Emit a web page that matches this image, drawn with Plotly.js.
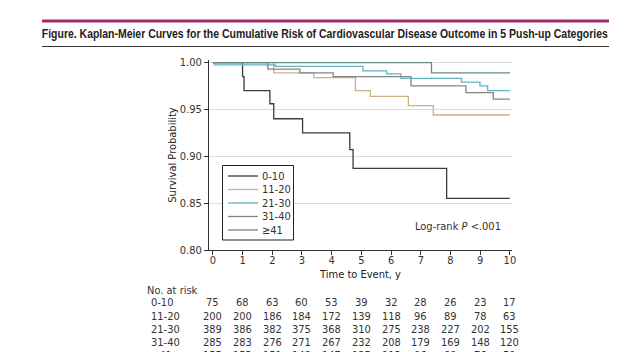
<!DOCTYPE html>
<html>
<head>
<meta charset="utf-8">
<script src="https://cdn.plot.ly/plotly-3.0.1.min.js"></script>
<style>
  html, body { margin: 0; padding: 0; background: #fff; }
  #chart { width: 640px; height: 352px; }
</style>
</head>
<body>
<div id="chart"></div>
<script>
// ---- Data ----
const groupNames = ["0-10", "11-20", "21-30", "31-40", "\u226541"];

const t_0_10  = [0, 1.0, 1.05, 1.92, 2.05, 3.02, 4.61, 4.72, 7.87, 10];
const s_0_10  = [1.0, 0.985, 0.970, 0.956, 0.940, 0.925, 0.907, 0.887, 0.855, 0.855];

const t_11_20 = [0, 2.05, 3.4, 4.8, 5.3, 6.58, 7.42, 10];
const s_11_20 = [1.0, 0.989, 0.984, 0.970, 0.964, 0.954, 0.944, 0.944];

const t_21_30 = [0, 0.05, 2.1, 5.05, 5.85, 6.33, 8.37, 8.99, 9.25, 10];
const s_21_30 = [1.0, 0.9975, 0.996, 0.991, 0.988, 0.983, 0.979, 0.975, 0.970, 0.970];

const t_31_40 = [0, 1.85, 2.93, 4.05, 6.67, 8.52, 9.44, 10];
const s_31_40 = [1.0, 0.993, 0.989, 0.985, 0.975, 0.968, 0.961, 0.961];

const t_41    = [0, 7.36, 10];
const s_41    = [1.0, 0.989, 0.989];

const riskYears = [0, 1, 2, 3, 4, 5, 6, 7, 8, 9, 10];
const risk_0_10  = [75, 68, 63, 60, 53, 39, 32, 28, 26, 23, 17];
const risk_11_20 = [200, 200, 186, 184, 172, 139, 118, 96, 89, 78, 63];
const risk_21_30 = [389, 386, 382, 375, 368, 310, 275, 238, 227, 202, 155];
const risk_31_40 = [285, 283, 276, 271, 267, 232, 208, 179, 169, 148, 120];
const risk_41    = [155, 153, 151, 148, 147, 125, 113, 96, 89, 76, 59];

const titleText = "Figure. Kaplan-Meier Curves for the Cumulative Risk of Cardiovascular Disease Outcome in 5 Push-up Categories";

// ---- Styling ----
const colors = ["#3c3c3c", "#cdb083", "#5fb3c2", "#858585", "#6b8a82"];
const FONT = "'DejaVu Sans Condensed', 'Liberation Sans Narrow', sans-serif";
const TFONT = "'Liberation Sans', Arial, sans-serif";

const times = [t_0_10, t_11_20, t_21_30, t_31_40, t_41];
const surv  = [s_0_10, s_11_20, s_21_30, s_31_40, s_41];
const risks = [risk_0_10, risk_11_20, risk_21_30, risk_31_40, risk_41];

const traces = groupNames.map((name, i) => ({
  x: times[i], y: surv[i], name: name,
  type: "scatter", mode: "lines",
  line: { shape: "hv", color: colors[i], width: 1.3 },
  hoverinfo: "skip", showlegend: false
}));

// geometry helpers (plot area: 209..512 px horizontally, 60..250 px vertically)
const L = 209, R = 128, T = 60, B = 102, W = 640 - L - R, H = 352 - T - B;
const px2paperX = px => (px - L) / W;
const px2paperY = py => (352 - B - py) / H;

const annotations = [];
const shapes = [
  { type: "rect", xref: "paper", yref: "paper",
    x0: px2paperX(42), x1: px2paperX(609), y0: px2paperY(19.5), y1: px2paperY(22.5),
    fillcolor: "#a4276b", line: { width: 0 } },
  { type: "line", xref: "paper", yref: "paper",
    x0: px2paperX(42), x1: px2paperX(609), y0: px2paperY(46.5), y1: px2paperY(46.5),
    line: { color: "#333", width: 1 } }
];

// legend box (drawn by hand to match the compact row spacing)
shapes.push({ type: "rect", xref: "paper", yref: "paper",
  x0: px2paperX(222.5), x1: px2paperX(293.5), y0: px2paperY(240), y1: px2paperY(165.5),
  fillcolor: "#fff", line: { color: "#222", width: 1 }, layer: "above" });
const legY = [176, 189.5, 203, 216.5, 230];
groupNames.forEach((name, i) => {
  shapes.push({ type: "line", xref: "paper", yref: "paper",
    x0: px2paperX(228), x1: px2paperX(258), y0: px2paperY(legY[i]), y1: px2paperY(legY[i]),
    line: { color: colors[i], width: 1.3 }, layer: "above" });
  annotations.push({ text: name, xref: "paper", yref: "paper",
    x: px2paperX(260), y: px2paperY(legY[i]), xanchor: "left", yanchor: "middle",
    showarrow: false, font: { family: FONT, size: 11, color: "#333" } });
});

annotations.push({
  text: "Log-rank <i>P</i> <.001", xref: "paper", yref: "paper",
  x: px2paperX(503), y: px2paperY(226), xanchor: "right", yanchor: "middle",
  showarrow: false, font: { family: FONT, size: 11, color: "#333" }
});
annotations.push({
  text: "No. at risk", xref: "paper", yref: "paper",
  x: px2paperX(145), y: px2paperY(290), xanchor: "left", yanchor: "middle",
  showarrow: false, font: { family: FONT, size: 11, color: "#333" }
});
const rowY = [302.7, 316, 329.3, 342.6, 355.9];
groupNames.forEach((name, i) => {
  annotations.push({
    text: name, xref: "paper", yref: "paper",
    x: px2paperX(149), y: px2paperY(rowY[i]), xanchor: "left", yanchor: "middle",
    showarrow: false, font: { family: FONT, size: 11, color: "#333" }
  });
  riskYears.forEach((yr, j) => {
    annotations.push({
      text: String(risks[i][j]), xref: "x", yref: "paper",
      x: yr, y: px2paperY(rowY[i]), xanchor: "center", yanchor: "middle",
      showarrow: false, font: { family: FONT, size: 11, color: "#333" }
    });
  });
});
annotations.push({
  text: titleText, xref: "paper", yref: "paper",
  x: px2paperX(325), y: px2paperY(33), xanchor: "center", yanchor: "middle",
  showarrow: false, font: { family: TFONT, size: 13, color: "#222", weight: "bold" }
});

const layout = {
  width: 640, height: 352,
  margin: { l: L, r: R, t: T, b: B, pad: 0 },
  paper_bgcolor: "#fff", plot_bgcolor: "#fff",
  font: { family: FONT, size: 11, color: "#333" },
  showlegend: false,
  xaxis: {
    range: [-0.13, 10.07], dtick: 1, tick0: 0,
    showline: true, linecolor: "#333", linewidth: 1,
    ticks: "outside", ticklen: 4, tickcolor: "#333",
    ticklabelstandoff: -4,
    showgrid: false, zeroline: false,
    tickfont: { family: FONT, size: 11, color: "#333" },
    title: { text: "Time to Event, y", font: { family: FONT, size: 11, color: "#222" }, standoff: 4 }
  },
  yaxis: {
    range: [0.8, 1.0027], dtick: 0.05, tick0: 0.8, tickformat: ".2f",
    showline: true, linecolor: "#333", linewidth: 1,
    ticks: "outside", ticklen: 4, tickcolor: "#333",
    showgrid: true, gridcolor: "#dcdcdc", gridwidth: 1, zeroline: false,
    tickfont: { family: FONT, size: 11, color: "#333" },
    title: { text: "Survival Probability", font: { family: FONT, size: 11, color: "#222" }, standoff: 0 }
  },
  annotations: annotations,
  shapes: shapes
};

Plotly.newPlot("chart", traces, layout, { displayModeBar: false, staticPlot: true }).then(() => {
  // compress the figure title to the reference's (condensed) width
  document.querySelectorAll(".annotation-text").forEach(el => {
    if (el.textContent === titleText) {
      el.setAttribute("textLength", "566");
      el.setAttribute("lengthAdjust", "spacingAndGlyphs");
    }
  });
});
</script>
</body>
</html>
